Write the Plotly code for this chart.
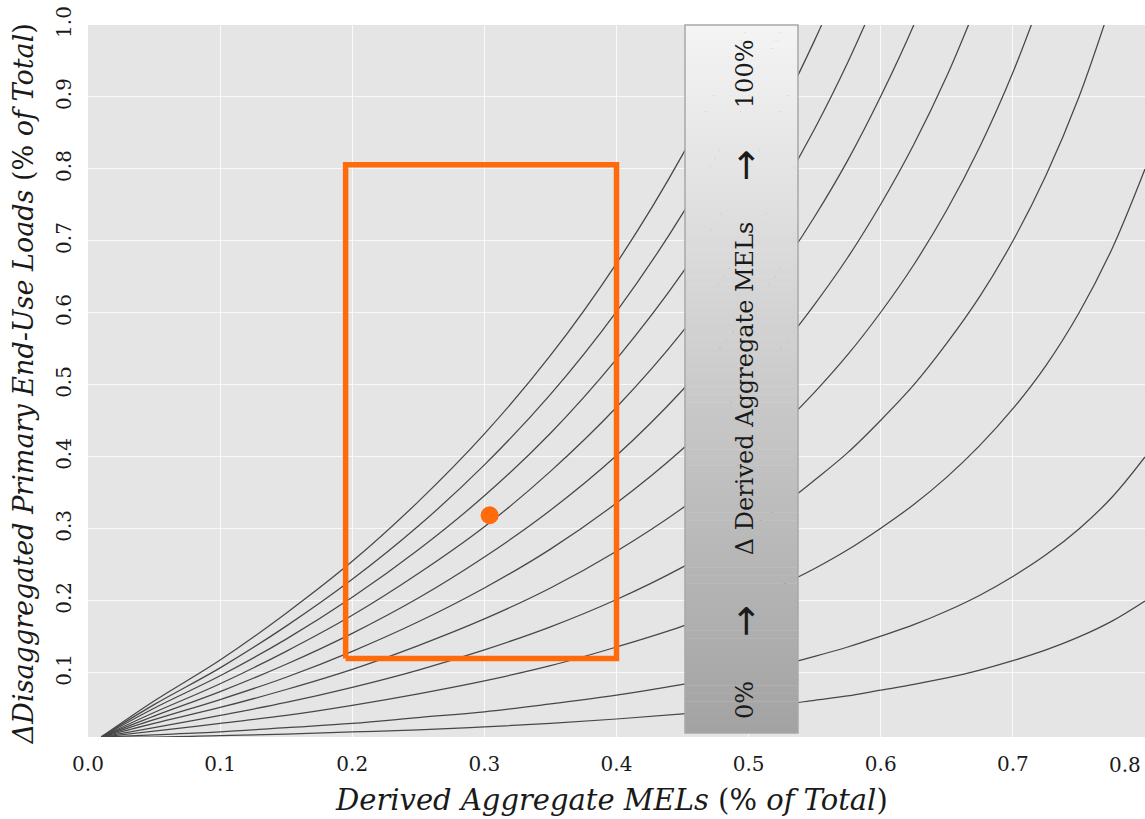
import plotly.graph_objects as go

# ---- data ----
x_vals = [0.01, 0.05, 0.10, 0.15, 0.20, 0.25, 0.30, 0.35, 0.40, 0.45, 0.50,
          0.525, 0.55, 0.575, 0.60, 0.625, 0.65, 0.675, 0.70, 0.725, 0.75, 0.775, 0.80]

delta_levels = ["100%", "90%", "80%", "70%", "60%", "50%", "40%", "30%", "20%", "10%", "5%"]

curve_100 = [0.011, 0.061, 0.118, 0.183, 0.255, 0.338, 0.432, 0.541, 0.669, 0.820, 1.001, 1.106]
curve_90 = [0.011, 0.056, 0.107, 0.165, 0.230, 0.304, 0.389, 0.487, 0.602, 0.738, 0.901, 0.995, 1.101]
curve_80 = [0.011, 0.051, 0.096, 0.147, 0.205, 0.271, 0.346, 0.433, 0.536, 0.656, 0.801, 0.885, 0.979, 1.083]
curve_70 = [0.011, 0.045, 0.085, 0.130, 0.180, 0.238, 0.303, 0.380, 0.469, 0.574, 0.701, 0.774, 0.856, 0.948, 1.051]
curve_60 = [0.011, 0.040, 0.074, 0.112, 0.155, 0.204, 0.261, 0.326, 0.402, 0.493, 0.601, 0.664, 0.734, 0.812, 0.901,
            1.000, 1.115]
curve_50 = [0.011, 0.035, 0.063, 0.094, 0.130, 0.171, 0.218, 0.272, 0.336, 0.411, 0.501, 0.553, 0.612, 0.677, 0.751,
            0.834, 0.929, 1.039]
curve_40 = [0.011, 0.030, 0.052, 0.077, 0.105, 0.138, 0.175, 0.218, 0.269, 0.329, 0.401, 0.443, 0.490, 0.542, 0.601,
            0.667, 0.743, 0.831, 0.934, 1.055]
curve_30 = [0.011, 0.024, 0.041, 0.059, 0.080, 0.104, 0.132, 0.164, 0.202, 0.247, 0.301, 0.332, 0.368, 0.406, 0.451,
            0.500, 0.558, 0.623, 0.700, 0.791, 0.900, 1.033]
curve_20 = [0.011, 0.019, 0.030, 0.041, 0.055, 0.071, 0.089, 0.110, 0.136, 0.165, 0.201, 0.222, 0.245, 0.271, 0.301,
            0.334, 0.372, 0.416, 0.467, 0.527, 0.600, 0.689, 0.800]
curve_10 = [0.011, 0.014, 0.018, 0.024, 0.030, 0.038, 0.046, 0.057, 0.069, 0.084, 0.101, 0.111, 0.123, 0.136, 0.151,
            0.167, 0.186, 0.208, 0.234, 0.264, 0.300, 0.344, 0.400]
curve_05 = [0.011, 0.011, 0.013, 0.015, 0.018, 0.021, 0.025, 0.030, 0.036, 0.043, 0.051, 0.056, 0.062, 0.068, 0.076,
            0.084, 0.093, 0.104, 0.117, 0.132, 0.150, 0.172, 0.200]

curves = [curve_100, curve_90, curve_80, curve_70, curve_60, curve_50,
          curve_40, curve_30, curve_20, curve_10, curve_05]

box_x = [0.195, 0.400]
box_y = [0.120, 0.806]
point_x = [0.304]
point_y = [0.319]

x_ticks = [0.0, 0.1, 0.2, 0.3, 0.4, 0.5, 0.6, 0.7, 0.8]
x_ticktext = ["0.0", "0.1", "0.2", "0.3", "0.4", "0.5", "0.6", "0.7", ""]
y_ticks = [0.1, 0.2, 0.3, 0.4, 0.5, 0.6, 0.7, 0.8, 0.9, 1.0]
y_ticktext = ["0.1", "0.2", "0.3", "0.4", "0.5", "0.6", "0.7", "0.8", "0.9", "1.0"]

ORANGE = "#FF6A0A"
SERIF = "DejaVu Serif"
TXT = "#1a1a1a"

fig = go.Figure()

for name, ys in zip(delta_levels, curves):
    fig.add_trace(go.Scatter(
        x=x_vals[:len(ys)], y=ys, mode="lines", name=name,
        line=dict(color="#474747", width=1.25, shape="spline", smoothing=1.0),
        showlegend=False, hoverinfo="skip"))

# orange rectangle
fig.add_trace(go.Scatter(
    x=[box_x[0], box_x[1], box_x[1], box_x[0], box_x[0]],
    y=[box_y[0], box_y[0], box_y[1], box_y[1], box_y[0]],
    mode="lines", line=dict(color=ORANGE, width=5.5), showlegend=False))

fig.add_trace(go.Scatter(
    x=point_x, y=point_y, mode="markers",
    marker=dict(color=ORANGE, size=18), showlegend=False))

# gradient legend bar (paper coords)
bx0, bx1 = 0.5648, 0.6717
by0, by1 = 0.0056, 1.0
shapes = []
N = 90
top_c, bot_c = 244, 163
for i in range(N):
    t = i / (N - 1)
    c = round(bot_c + (top_c - bot_c) * t)
    y0 = by0 + (by1 - by0) * i / N
    y1 = by0 + (by1 - by0) * (i + 1) / N + 0.0005
    shapes.append(dict(type="rect", xref="paper", yref="paper",
                       x0=bx0, x1=bx1, y0=y0, y1=min(y1, by1),
                       fillcolor=f"rgb({c},{c},{c})", line=dict(width=0),
                       layer="above"))
shapes.append(dict(type="rect", xref="paper", yref="paper",
                   x0=bx0, x1=bx1, y0=by0, y1=by1,
                   fillcolor="rgba(0,0,0,0)", line=dict(color="#a8a8a8", width=1.5),
                   layer="above"))

annotations = []
lx = 0.6216
for txt, yy, fam, sz in [("100%", 0.931, SERIF, 24),
                         ("→", 0.803, "DejaVu Sans", 38),
                         ("Δ Derived Aggregate MELs", 0.490, SERIF, 24),
                         ("→", 0.163, "DejaVu Sans", 38),
                         ("0%", 0.052, SERIF, 24)]:
    annotations.append(dict(text=txt, xref="paper", yref="paper", x=lx, y=yy,
                            xanchor="center", yanchor="middle", textangle=-90,
                            showarrow=False, font=dict(family=fam, size=sz, color=TXT)))

# axis titles
annotations.append(dict(
    text="<i>ΔDisaggregated Primary End-Use Loads</i> (% <i>of Total</i>)",
    xref="paper", yref="paper", x=-0.0615, y=0.497, xanchor="center", yanchor="middle",
    textangle=-90, showarrow=False, font=dict(family=SERIF, size=27, color=TXT)))
annotations.append(dict(
    text="<i>Derived Aggregate MELs</i> (% <i>of Total</i>)",
    xref="paper", yref="paper", x=0.495, y=-0.0885, xanchor="center", yanchor="middle",
    showarrow=False, font=dict(family=SERIF, size=29, color=TXT)))
# last x tick label kept inside the page
annotations.append(dict(
    text="0.8", xref="paper", yref="paper", x=0.9985, y=-0.0393,
    xanchor="right", yanchor="middle", showarrow=False,
    font=dict(family=SERIF, size=20, color=TXT)))

fig.update_layout(
    template="none",
    width=1145, height=819,
    margin=dict(l=88, r=0, t=25, b=82),
    paper_bgcolor="white", plot_bgcolor="#e5e5e5",
    shapes=shapes, annotations=annotations,
    xaxis=dict(range=[0, 0.8], tickvals=x_ticks, ticktext=x_ticktext,
               showgrid=True, gridcolor="rgba(255,255,255,0.75)", gridwidth=1,
               zeroline=False, showline=False, ticks="", ticklabelstandoff=13,
               tickfont=dict(family=SERIF, size=20, color=TXT)),
    yaxis=dict(range=[0.011, 1.0], tickvals=y_ticks, ticktext=y_ticktext,
               tickangle=-90,
               showgrid=True, gridcolor="rgba(255,255,255,0.75)", gridwidth=1,
               zeroline=False, showline=False, ticks="", ticklabelstandoff=12,
               tickfont=dict(family=SERIF, size=20, color=TXT)),
)

fig.write_html("out.html")
